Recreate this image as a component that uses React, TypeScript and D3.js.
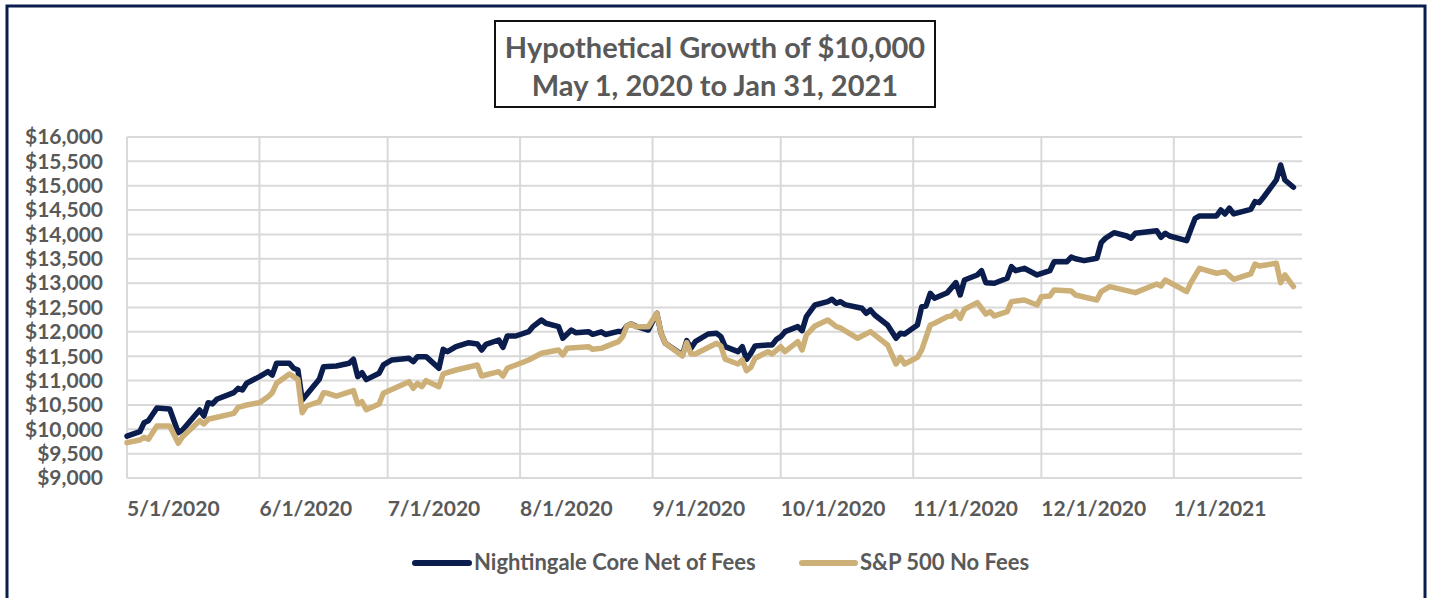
import React from 'react';
import * as d3 from 'd3';

// Nightingale Core (net of fees), vertices
const coreDates = [
  '2020-05-01', '2020-05-04', '2020-05-05', '2020-05-06', '2020-05-08', '2020-05-11', '2020-05-13', '2020-05-14',
  '2020-05-18', '2020-05-19', '2020-05-20', '2020-05-21', '2020-05-22', '2020-05-26', '2020-05-27', '2020-05-28',
  '2020-05-29', '2020-06-01', '2020-06-03', '2020-06-04', '2020-06-05', '2020-06-08', '2020-06-09', '2020-06-10',
  '2020-06-11', '2020-06-15', '2020-06-16', '2020-06-19', '2020-06-22', '2020-06-23', '2020-06-24', '2020-06-25',
  '2020-06-26', '2020-06-29', '2020-06-30', '2020-07-02', '2020-07-06', '2020-07-07', '2020-07-08', '2020-07-10',
  '2020-07-13', '2020-07-14', '2020-07-15', '2020-07-17', '2020-07-20', '2020-07-22', '2020-07-23', '2020-07-24',
  '2020-07-27', '2020-07-28', '2020-07-29', '2020-07-31', '2020-08-03', '2020-08-04', '2020-08-06', '2020-08-07',
  '2020-08-10', '2020-08-11', '2020-08-13', '2020-08-14', '2020-08-17', '2020-08-18', '2020-08-20', '2020-08-21',
  '2020-08-24', '2020-08-25', '2020-08-26', '2020-08-27', '2020-08-28', '2020-08-31', '2020-09-02', '2020-09-03',
  '2020-09-04', '2020-09-08', '2020-09-09', '2020-09-10', '2020-09-11', '2020-09-14', '2020-09-16', '2020-09-17',
  '2020-09-18', '2020-09-21', '2020-09-22', '2020-09-23', '2020-09-24', '2020-09-25', '2020-09-28', '2020-09-29',
  '2020-09-30', '2020-10-01', '2020-10-02', '2020-10-05', '2020-10-06', '2020-10-07', '2020-10-09', '2020-10-12',
  '2020-10-13', '2020-10-14', '2020-10-15', '2020-10-16', '2020-10-20', '2020-10-21', '2020-10-22', '2020-10-23',
  '2020-10-26', '2020-10-28', '2020-10-29', '2020-10-30', '2020-11-02', '2020-11-03', '2020-11-04', '2020-11-05',
  '2020-11-06', '2020-11-09', '2020-11-11', '2020-11-12', '2020-11-13', '2020-11-16', '2020-11-17', '2020-11-18',
  '2020-11-20', '2020-11-23', '2020-11-24', '2020-11-25', '2020-11-27', '2020-11-30', '2020-12-03', '2020-12-04',
  '2020-12-07', '2020-12-08', '2020-12-09', '2020-12-11', '2020-12-14', '2020-12-15', '2020-12-16', '2020-12-18',
  '2020-12-21', '2020-12-22', '2020-12-23', '2020-12-24', '2020-12-28', '2020-12-29', '2020-12-30', '2020-12-31',
  '2021-01-04', '2021-01-05', '2021-01-06', '2021-01-07', '2021-01-11', '2021-01-12', '2021-01-13', '2021-01-14',
  '2021-01-15', '2021-01-19', '2021-01-20', '2021-01-21', '2021-01-22', '2021-01-25', '2021-01-26', '2021-01-27',
  '2021-01-29',
];
const coreValues = [
  9860, 9950, 10135, 10176, 10437, 10417, 9930, 9985,
  10396, 10273, 10546, 10520, 10616, 10752, 10841, 10807,
  10944, 11080, 11183, 11115, 11355, 11355, 11252, 11217,
  10601, 11026, 11285, 11299, 11355, 11437, 11080, 11162,
  11020, 11149, 11320, 11423, 11457, 11388, 11491, 11491,
  11252, 11642, 11593, 11696, 11778, 11751, 11628, 11745,
  11833, 11683, 11915, 11915, 12004, 12107, 12244, 12176,
  12107, 11868, 12038, 11983, 12004, 11950, 12000, 11945,
  12010, 12004, 12120, 12162, 12120, 12038, 12381, 11970,
  11765, 11525, 11819, 11662, 11799, 11956, 11970, 11901,
  11696, 11593, 11696, 11437, 11560, 11710, 11731, 11731,
  11847, 11901, 12004, 12107, 12024, 12312, 12552, 12620,
  12669, 12586, 12620, 12560, 12484, 12381, 12449, 12346,
  12141, 11868, 11970, 11956, 12141, 12517, 12532, 12792,
  12689, 12805, 13010, 12757, 13065, 13168, 13256, 13010,
  12997, 13100, 13339, 13256, 13305, 13168, 13256, 13441,
  13441, 13535, 13500, 13462, 13510, 13831, 13921, 14036,
  13968, 13921, 14024, 14036, 14077, 13941, 14024, 13968,
  13872, 14105, 14331, 14379, 14379, 14502, 14420, 14537,
  14420, 14516, 14673, 14652, 14763, 15118, 15426, 15118,
  14968,
];

// S&P 500 (no fees)
const spxDates = [
  '2020-05-01', '2020-05-04', '2020-05-05', '2020-05-06', '2020-05-08', '2020-05-11', '2020-05-13', '2020-05-14',
  '2020-05-18', '2020-05-19', '2020-05-20', '2020-05-26', '2020-05-27', '2020-05-29', '2020-06-01', '2020-06-03',
  '2020-06-04', '2020-06-05', '2020-06-08', '2020-06-10', '2020-06-11', '2020-06-12', '2020-06-15', '2020-06-16',
  '2020-06-17', '2020-06-19', '2020-06-23', '2020-06-24', '2020-06-25', '2020-06-26', '2020-06-29', '2020-06-30',
  '2020-07-06', '2020-07-07', '2020-07-08', '2020-07-09', '2020-07-10', '2020-07-13', '2020-07-14', '2020-07-17',
  '2020-07-22', '2020-07-23', '2020-07-27', '2020-07-28', '2020-07-29', '2020-07-31', '2020-08-03', '2020-08-06',
  '2020-08-10', '2020-08-11', '2020-08-12', '2020-08-17', '2020-08-18', '2020-08-20', '2020-08-24', '2020-08-25',
  '2020-08-26', '2020-08-27', '2020-08-28', '2020-08-31', '2020-09-02', '2020-09-03', '2020-09-04', '2020-09-08',
  '2020-09-09', '2020-09-10', '2020-09-11', '2020-09-16', '2020-09-17', '2020-09-18', '2020-09-21', '2020-09-22',
  '2020-09-23', '2020-09-24', '2020-09-25', '2020-09-28', '2020-09-29', '2020-10-01', '2020-10-02', '2020-10-05',
  '2020-10-06', '2020-10-07', '2020-10-09', '2020-10-12', '2020-10-14', '2020-10-15', '2020-10-16', '2020-10-19',
  '2020-10-20', '2020-10-22', '2020-10-26', '2020-10-28', '2020-10-29', '2020-10-30', '2020-11-02', '2020-11-03',
  '2020-11-05', '2020-11-06', '2020-11-09', '2020-11-10', '2020-11-11', '2020-11-12', '2020-11-13', '2020-11-16',
  '2020-11-18', '2020-11-19', '2020-11-20', '2020-11-23', '2020-11-24', '2020-11-27', '2020-11-30', '2020-12-01',
  '2020-12-03', '2020-12-04', '2020-12-08', '2020-12-09', '2020-12-14', '2020-12-15', '2020-12-17', '2020-12-23',
  '2020-12-28', '2020-12-29', '2020-12-30', '2021-01-04', '2021-01-05', '2021-01-07', '2021-01-11', '2021-01-13',
  '2021-01-15', '2021-01-19', '2021-01-20', '2021-01-21', '2021-01-25', '2021-01-26', '2021-01-27', '2021-01-29',
];
const spxValues = [
  9725, 9780, 9835, 9795, 10068, 10068, 9712, 9848,
  10176, 10109, 10205, 10328, 10451, 10499, 10546, 10669,
  10752, 10944, 11135, 11026, 10341, 10478, 10566, 10752,
  10739, 10683, 10793, 10520, 10566, 10403, 10520, 10739,
  10977, 10841, 10944, 10875, 10998, 10875, 11135, 11217,
  11320, 11094, 11183, 11094, 11252, 11320, 11423, 11560,
  11628, 11525, 11662, 11696, 11642, 11662, 11799, 11901,
  12120, 12162, 12107, 12107, 12381, 11970, 11765, 11505,
  11778, 11546, 11546, 11765, 11710, 11437, 11341, 11423,
  11203, 11272, 11457, 11593, 11546, 11696, 11593, 11799,
  11628, 11936, 12120, 12244, 12107, 12080, 12024, 11868,
  11915, 12004, 11731, 11340, 11478, 11340, 11478, 11628,
  12141, 12176, 12312, 12326, 12414, 12278, 12463, 12600,
  12367, 12414, 12326, 12414, 12620, 12654, 12552, 12723,
  12737, 12860, 12840, 12757, 12654, 12826, 12928, 12805,
  12983, 12942, 13065, 12826, 13010, 13305, 13203, 13236,
  13079, 13188, 13393, 13352, 13408, 13010, 13168, 12928,
];

const yTicks = [9000, 9500, 10000, 10500, 11000, 11500, 12000, 12500, 13000, 13500, 14000, 14500, 15000, 15500, 16000];
const xTicks = ['2020-05-01', '2020-06-01', '2020-07-01', '2020-08-01', '2020-09-01', '2020-10-01', '2020-11-01', '2020-12-01', '2021-01-01'];

const NAVY = '#0b1d4d';
const TAN = '#cdb077';
const GREY = '#595959';
const FONT = 'Lato, sans-serif';

const parse = d3.timeParse('%Y-%m-%d');

export default function App() {
  const x = d3.scaleTime()
    .domain([parse('2020-05-01') as Date, parse('2021-01-31') as Date])
    .range([127, 1302]);
  const y = d3.scaleLinear().domain([9000, 16000]).range([478, 137]);

  const line = d3.line<[Date, number]>()
    .x(d => x(d[0]))
    .y(d => y(d[1]));

  const core = coreDates.map((d, i) => [parse(d) as Date, coreValues[i]] as [Date, number]);
  const spx = spxDates.map((d, i) => [parse(d) as Date, spxValues[i]] as [Date, number]);
  const fmt = d3.format(',');
  const xFmt = d3.timeFormat('%-m/%-d/%Y');

  return (
    <svg width={1430} height={598} style={{ position: 'absolute', left: 0, top: 0, background: '#fff' }}
      fontFamily={FONT} fontWeight={700}>
      <rect x={7} y={6} width={1418} height={640} fill="#fff" stroke={NAVY} strokeWidth={3} />

      {yTicks.map(t => (
        <g key={t}>
          <line x1={127} x2={1302} y1={y(t)} y2={y(t)} stroke="#d9d9d9" strokeWidth={2} />
          <text x={103} y={y(t)} dy="0.35em" textAnchor="end" fontSize={21} fill={GREY}>${fmt(t)}</text>
        </g>
      ))}
      {xTicks.map(t => {
        const d = parse(t) as Date;
        return (
          <g key={t}>
            <line x1={x(d)} x2={x(d)} y1={137} y2={478} stroke="#d9d9d9" strokeWidth={2} />
            <text x={x(d)} y={516} fontSize={21} fill={GREY}>{xFmt(d)}</text>
          </g>
        );
      })}

      {/* S&P sits on top where the two overlap, as in the original */}
      <path d={line(core) || ''} fill="none" stroke={NAVY} strokeWidth={5.5} strokeLinejoin="round" strokeLinecap="round" />
      <path d={line(spx) || ''} fill="none" stroke={TAN} strokeWidth={5.5} strokeLinejoin="round" strokeLinecap="round" />

      <rect x={495} y={21} width={440} height={86} fill="#fff" stroke="#111" strokeWidth={2} />
      <text x={715} y={58} textAnchor="middle" fontSize={29} fill={GREY}>Hypothetical Growth of $10,000</text>
      <text x={715} y={96} textAnchor="middle" fontSize={29} fill={GREY}>May 1, 2020 to Jan 31, 2021</text>

      <line x1={415} x2={469} y1={563} y2={563} stroke={NAVY} strokeWidth={6} strokeLinecap="round" />
      <text x={474} y={570} fontSize={22} fill={GREY}>Nightingale Core Net of Fees</text>
      <line x1={802} x2={855} y1={563} y2={563} stroke={TAN} strokeWidth={6} strokeLinecap="round" />
      <text x={860} y={570} fontSize={22} fill={GREY}>S&amp;P 500 No Fees</text>
    </svg>
  );
}
